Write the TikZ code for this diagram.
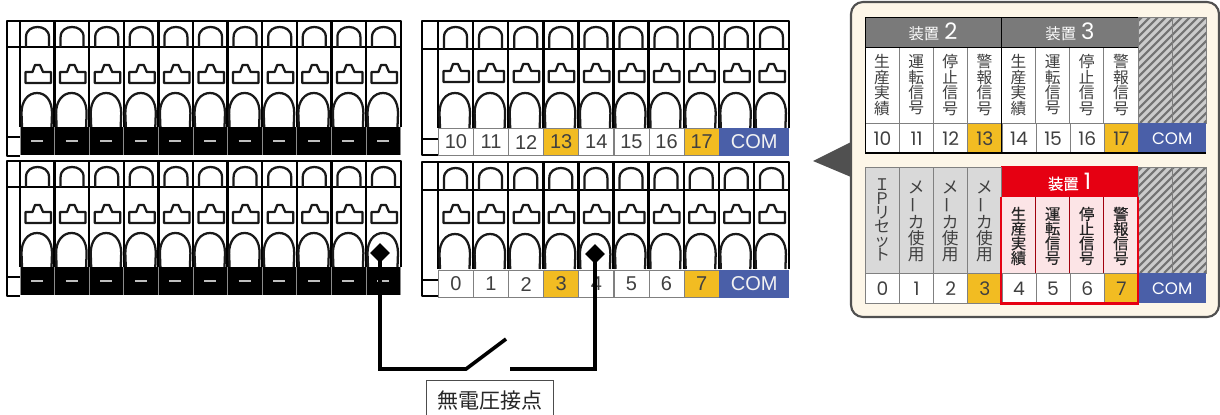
\documentclass[tikz,border=0pt]{standalone}
\usepackage{fontspec}
\usepackage{graphicx}
\usetikzlibrary{shapes.geometric}
\setmainfont{Liberation Sans}
\newfontfamily\cjk{Noto Sans CJK JP}
\newfontfamily\cjkm[FakeBold=0.3]{Noto Sans CJK JP}
\newfontfamily\numfont{Poppins}
\definecolor{orangec}{HTML}{F2BC22}
\definecolor{bluec}{HTML}{4A5FA8}
\definecolor{creamc}{HTML}{FDF6E8}
\definecolor{edgec}{HTML}{505050}
\definecolor{headc}{HTML}{7A7A7A}
\definecolor{grayc}{HTML}{D9D9D9}
\definecolor{pinkc}{HTML}{FCE4E6}
\definecolor{redc}{HTML}{E60012}
\definecolor{textc}{HTML}{404040}
\newcommand{\vbar}{\rotatebox[origin=c]{90}{ー}}
\tikzset{
 x=0.75pt,y=-0.75pt,
 termline/.style={draw=black,line width=1.8pt,line join=round},
 shapeline/.style={draw=black!90,line width=1.7pt,line join=round},
 cellgrid/.style={draw=black!50,line width=0.6pt},
 numA/.style={font=\fontsize{15}{16}\selectfont,text=textc,inner sep=0pt},
 numB/.style={font=\numfont\fontsize{14}{15}\selectfont,text=textc,inner sep=0pt},
 vlabel/.style={align=center,inner sep=0pt,text=textc,font=\cjk\fontsize{11.8}{11.6}\selectfont},
 vlabelb/.style={align=center,inner sep=0pt,text=black!85,font=\cjkm\fontsize{11.5}{11}\selectfont},
 vlabelg/.style={align=center,inner sep=0pt,text=textc,font=\cjk\fontsize{12.5}{12}\selectfont},
 vlabelp/.style={align=center,inner sep=0pt,text=textc,font=\cjk\fontsize{12}{10.6}\selectfont},
 headlabel/.style={inner sep=0pt,text=white,font=\cjk\fontsize{11.5}{12}\selectfont},
 wire/.style={draw=black,line width=2.7pt},
 probe/.style={diamond,fill=black,draw=none,inner sep=0pt,minimum width=15pt,minimum height=15pt},
}
\newcommand{\cellshapes}[3]{%
 \draw[shapeline] (6,#1) -- (6,16) .. controls (6,9) and (12,6) .. (17.5,6) .. controls (23,6) and (29,9) .. (29,16) -- (29,#1);
 \draw[shapeline] (5.5,#2+18) -- (5.5,#2+7) -- (12.5,#2+7) -- (15,#2) -- (20,#2) -- (23,#2+7) -- (31,#2+7) -- (31,#2+18) -- cycle;
 \draw[shapeline] (2,#3) -- (1.5,92) .. controls (1.5,80) and (8,72) .. (17,72) .. controls (26,72) and (32,80) .. (32,92) -- (31.5,#3);
}
\begin{document}
\begin{tikzpicture}
\useasboundingbox[fill=white] (0,0) rectangle (1220,414);
% ---- left blocks
\foreach \yy in {21,161}{
 \begin{scope}[shift={(0,\yy)}]
  \draw[termline] (20,0) -- (7,0) -- (7,135) -- (20,135);
  \draw[termline] (7,26) -- (20,26);
  \draw[termline] (7,116) -- (20,116);
  \draw[termline] (20,0) -- (401,0) -- (401,106);
  \draw[termline] (20,26) -- (401,26);
  \foreach \i in {0,...,10}{
   \draw[termline] ({20+34.6*\i},0) -- ({20+34.6*\i},106);
   \begin{scope}[shift={({20+34.6*\i},0)}]
    \cellshapes{26}{44}{106}
   \end{scope}
  }
  \fill[black] (20,106) rectangle (401,134);
  \foreach \i in {0,...,11}{\draw[draw=black!45,line width=0.7pt] ({20+34.6*\i},106) -- ({20+34.6*\i},134);}
  \foreach \i in {0,...,10}{\draw[draw=black!25,line width=1pt] ({31+34.6*\i},120) -- ({43+34.6*\i},120);}
 \end{scope}
}
% ---- right blocks
\foreach \yy in {21,162}{
 \begin{scope}[shift={(0,\yy)}]
  \draw[termline] (438,0) -- (422,0) -- (422,134) -- (438,134);
  \draw[termline] (422,28) -- (438,28);
  \draw[termline] (422,118) -- (438,118);
  \draw[termline] (438,0) -- (789,0) -- (789,107);
  \draw[termline] (438,28) -- (789,28);
  \foreach \i in {0,...,9}{
   \draw[termline] ({438+35.1*\i},0) -- ({438+35.1*\i},107);
   \begin{scope}[shift={({438+35.1*\i},0)}]
    \cellshapes{28}{43}{107}
   \end{scope}
  }
 \end{scope}
}
% number rows of the terminals
\foreach \yy/\lst/\bn in {128/{10,11,12,13,14,15,16,17}/c,270/{0,1,2,3,4,5,6,7}/d}{
 \foreach \t [count=\c from 0] in \lst {
  \pgfmathsetmacro{\xa}{438+35.1*\c}
  \pgfmathtruncatemacro{\tm}{mod(\c,4)}
  \ifnum\tm=3 \def\fc{orangec}\else\def\fc{white}\fi
  \node[draw=black!50,line width=0.6pt,fill=\fc,minimum width=26.3pt,minimum height=20.5pt,inner sep=0pt,anchor=north west,numA] (n\bn\t) at (\xa,\yy) {\t};
 }
 \node[fill=bluec,minimum width=52.6pt,minimum height=20.5pt,inner sep=0pt,anchor=north west,text=black!5,font=\fontsize{15}{16}\selectfont] (com\bn) at (718.8,\yy) {COM};
}
% ---- callout
\draw[draw=edgec,line width=1.6pt,fill=creamc,rounded corners=9pt] (851,2) rectangle (1219,317);
\fill[edgec] (813,161) -- (851,142) -- (851,177) -- cycle;
% hatch columns
\foreach \ya/\yb in {17/123,167/273}{
 \begin{scope}
  \clip (1138,\ya) rectangle (1206,\yb);
  \fill[black!20] (1138,\ya) rectangle (1206,\yb);
  \foreach \s in {0,...,30}{
   \draw[draw=black!55,line width=1.6pt] ({1130+8*\s-110},\yb) -- ({1130+8*\s},{\yb-110});
  }
 \end{scope}
 \draw[black!50,line width=0.6pt] (1138,\ya) rectangle (1206,\yb);
 \draw[black!50,line width=0.6pt] (1172,\ya) -- (1172,\yb);
}
% top table
\fill[headc] (865,17) rectangle (1138,47);
\fill[white] (865,47) rectangle (1138,123);
\foreach \i in {0,...,8}{\draw[cellgrid] ({865+34.125*\i},47) -- ({865+34.125*\i},123);}
\draw[black,line width=0.7pt] (865,17) -- (1138,17);
\draw[black,line width=0.7pt] (865,47) -- (1138,47);
\node[headlabel] (h2) at (933,32) {装置\,\,\fontsize{17}{17}\selectfont\numfont 2};
\node[headlabel] (h3) at (1070,32) {装置\,\,\fontsize{17}{17}\selectfont\numfont 3};
\foreach \i/\tx in {0/生\\産\\実\\績,1/運\\転\\信\\号,2/停\\止\\信\\号,3/警\\報\\信\\号,4/生\\産\\実\\績,5/運\\転\\信\\号,6/停\\止\\信\\号,7/警\\報\\信\\号}{
 \node[vlabel] (vt\i) at ({882+34.125*\i},85) {\tx};
}
\foreach \t [count=\c from 0] in {10,11,12,13,14,15,16,17}{
 \pgfmathtruncatemacro{\tm}{mod(\c,4)}
 \ifnum\tm=3 \def\fc{orangec}\else\def\fc{white}\fi
 \node[draw=black!50,line width=0.6pt,fill=\fc,minimum width=25.6pt,minimum height=22.5pt,inner sep=0pt,anchor=north west,numB] (ct\t) at ({865+34.125*\c},123) {\t};
}
\node[fill=bluec,minimum width=51pt,minimum height=22.5pt,inner sep=0pt,anchor=north west,text=white,font=\numfont\fontsize{12.5}{14}\selectfont] (comt) at (1138,123) {COM};
\draw[black,line width=0.9pt] (865,153) -- (1206,153);
\draw[black,line width=0.7pt] (865,17) -- (865,153);
\draw[black,line width=0.7pt] (1001.5,17) -- (1001.5,153);
% bottom table
\fill[grayc] (865,167) rectangle (1001,273);
\fill[pinkc] (1001,197) rectangle (1138,273);
\fill[redc] (1001,166) rectangle (1138,197);
\foreach \i in {0,...,4}{\draw[cellgrid] ({865+34.125*\i},167) -- ({865+34.125*\i},273);}
\foreach \i in {5,6,7}{\draw[draw=redc!70!black,line width=0.6pt] ({865+34.125*\i},197) -- ({865+34.125*\i},273);}
\draw[cellgrid] (865,167) -- (1001,167);
\draw[cellgrid] (865,273) -- (1001,273);
\draw[draw=redc!45,line width=0.5pt] (1001,273) -- (1138,273);
\node[headlabel,font=\cjkm\fontsize{11.5}{12}\selectfont] (h1) at (1069.5,182) {装置\,\,\fontsize{17}{17}\selectfont\numfont 1};
\node[vlabelp] (vb0) at (882,220) {Ｉ\\Ｐ\\リ\\セ\\ッ\\ト};
\foreach \i in {1,2,3}{\node[vlabelg] (vb\i) at ({882+34.125*\i},221) {メ\\\vbar\\カ\\使\\用};}
\foreach \i/\tx in {4/生\\産\\実\\績,5/運\\転\\信\\号,6/停\\止\\信\\号,7/警\\報\\信\\号}{
 \node[vlabelb] (vb\i) at ({882+34.125*\i},236) {\tx};
}
\foreach \t [count=\c from 0] in {0,1,2,3,4,5,6,7}{
 \pgfmathtruncatemacro{\tm}{mod(\c,4)}
 \ifnum\tm=3 \def\fc{orangec}\else\def\fc{white}\fi
 \node[draw=black!50,line width=0.6pt,fill=\fc,minimum width=25.6pt,minimum height=22.5pt,inner sep=0pt,anchor=north west,numB] (cb\t) at ({865+34.125*\c},273) {\t};
}
\node[fill=bluec,minimum width=51pt,minimum height=22.5pt,inner sep=0pt,anchor=north west,text=white,font=\numfont\fontsize{12.5}{14}\selectfont] (comb) at (1138,273) {COM};
\draw[draw=redc,line width=1.6pt] (1001,197) -- (1001,303.5) -- (1138,303.5) -- (1138,197);
% ---- contact wiring
\node[probe] (pl) at (380,253) {};
\node[probe] (pr) at (595,254) {};
\coordinate (swa) at (466,369);
\coordinate (swb) at (506,339);
\coordinate (swc) at (510,369);
\draw[wire,line join=miter] (pl.center) |- (swa) -- (swb);
\draw[wire,line join=miter] (swc) -| (pr.center);
\node[draw=black!70,fill=white,line width=0.7pt,minimum width=95pt,minimum height=30pt,inner sep=0pt,anchor=north west,text=black!85,font=\cjk\fontsize{15.8}{16}\selectfont] (lbl) at (426,380) {無電圧接点};
\end{tikzpicture}
\end{document}
